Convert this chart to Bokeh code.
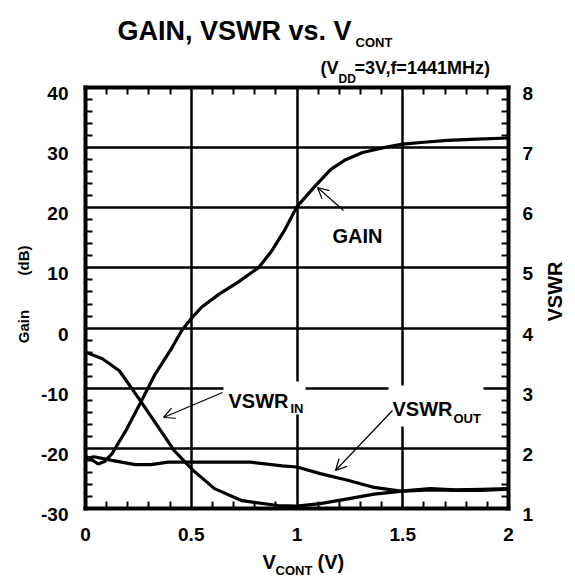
import math
from bokeh.plotting import figure
from bokeh.models import (Range1d, LinearAxis, Label, Arrow, OpenHead, FixedTicker,
                          BoxAnnotation)
from bokeh.embed import file_html
from bokeh.resources import INLINE

# ---------------- data ----------------
gain_v = [0, 0.03, 0.06, 0.09, 0.125, 0.19, 0.26, 0.33, 0.41, 0.455, 0.5, 0.55, 0.63,
          0.72, 0.82, 0.88, 0.94, 1.0, 1.08, 1.16, 1.23, 1.31, 1.41, 1.5, 1.6, 1.71,
          1.85, 2.0]
gain_db = [-21.3, -21.9, -22.6, -22.2, -20.9, -17.1, -12.4, -7.6, -3.2, -0.4, 1.6, 3.5,
           5.6, 7.6, 10.1, 12.8, 16.2, 20.2, 23.4, 26.4, 28.0, 29.2, 30.0, 30.6, 30.9,
           31.2, 31.4, 31.6]

vswr_in_v = [0, 0.08, 0.16, 0.26, 0.345, 0.42, 0.51, 0.61, 0.74, 0.91, 1.0, 1.11,
             1.24, 1.365, 1.5, 1.63, 1.75, 1.87, 2.0]
vswr_in = [3.60, 3.49, 3.29, 2.79, 2.35, 1.96, 1.63, 1.33, 1.13, 1.05, 1.04, 1.08,
           1.16, 1.24, 1.29, 1.31, 1.30, 1.30, 1.32]

vswr_out_v = [0, 0.04, 0.125, 0.235, 0.31, 0.39, 0.55, 0.78, 0.93, 1.0, 1.11, 1.24,
              1.365, 1.49, 1.63, 1.75, 1.87, 2.0]
vswr_out = [1.83, 1.86, 1.80, 1.73, 1.73, 1.77, 1.77, 1.77, 1.71, 1.69, 1.58, 1.47,
            1.35, 1.29, 1.33, 1.31, 1.32, 1.33]

x_ticks = [0, 0.5, 1, 1.5, 2]
x_tick_labels = ["0", "0.5", "1", "1.5", "2"]
gain_ticks = [-30, -20, -10, 0, 10, 20, 30, 40]
gain_tick_labels = ["-30", "-20", "-10", "0", "10", "20", "30", "40"]
vswr_ticks = [1, 2, 3, 4, 5, 6, 7, 8]

FONT = "Liberation Sans"

# ---------------- layout constants (canvas pixels) ----------------
W, H = 567, 577
FL, FR, FT, FB = 85, 508, 87, 508      # the plot box
XMIN, XMAX = 0.0, 2.0
GMIN, GMAX = -30.0, 40.0
VMIN, VMAX = 1.0, 8.0
xs = (FR - FL) / (XMAX - XMIN)
ys = (FB - FT) / (GMAX - GMIN)
x_start, x_end = XMIN - FL / xs, XMAX + (W - FR) / xs
g_start, g_end = GMIN - (H - FB) / ys, GMAX + FT / ys


def g2v(g):
    return VMIN + (g - GMIN) * (VMAX - VMIN) / (GMAX - GMIN)


def X(px):
    return XMIN + (px - FL) / xs


def Y(py):
    return GMAX - (py - FT) / ys


LAB_SHIFT = 1.0  # tick labels sit a little below their ticks in the reference

p = figure(width=W, height=H, output_backend="svg", toolbar_location=None,
           x_range=Range1d(x_start, x_end), y_range=Range1d(g_start, g_end),
           x_axis_type=None, y_axis_type=None, title=None,
           min_border_left=0, min_border_right=0, min_border_top=0,
           min_border_bottom=0, background_fill_color="white",
           border_fill_color="white")
p.outline_line_color = None
p.extra_y_ranges = {
    "vswr": Range1d(g2v(g_start), g2v(g_end)),
    "glab": Range1d(g_start + LAB_SHIFT, g_end + LAB_SHIFT),
    "vlab": Range1d(g2v(g_start) + LAB_SHIFT / 10, g2v(g_end) + LAB_SHIFT / 10),
}

x_minor = [round(0.1 * i, 1) for i in range(1, 20) if i % 5 != 0]
y_minor = [v for v in range(-28, 40, 2) if v % 10 != 0]
r_minor = [round(1 + 0.2 * i, 1) for i in range(1, 35) if i % 5 != 0]

ex, eg = 2 / xs, 2 / ys
TICK_FS = "19px"


def frame_axis(ax):
    ax.axis_line_color = "black"
    ax.axis_line_width = 4
    ax.major_tick_in = 0
    ax.major_tick_out = 0
    ax.major_tick_line_color = "black"
    ax.major_tick_line_width = 2.5
    ax.minor_tick_in = 7
    ax.minor_tick_out = 0
    ax.minor_tick_line_width = 2
    ax.minor_tick_line_color = "black"
    ax.major_label_text_alpha = 0
    return ax


def label_axis(ax, standoff):
    ax.axis_line_color = None
    ax.major_tick_in = 0
    ax.major_tick_out = 0
    ax.minor_tick_in = 0
    ax.minor_tick_out = 0
    ax.major_label_standoff = standoff
    ax.major_label_text_font = FONT
    ax.major_label_text_font_style = "bold"
    ax.major_label_text_font_size = TICK_FS
    ax.major_label_text_color = "black"
    return ax


# left edge (its long major ticks are the horizontal grid lines)
left = frame_axis(LinearAxis(fixed_location=XMIN, bounds=(GMIN - eg, GMAX + eg),
                             ticker=FixedTicker(ticks=gain_ticks, minor_ticks=y_minor)))
left.major_tick_in = int(FR - FL)
p.add_layout(left, "left")

# bottom edge with the x tick labels (long major ticks = vertical grid lines)
bottom = frame_axis(LinearAxis(fixed_location=GMIN, bounds=(XMIN - ex, XMAX + ex),
                               ticker=FixedTicker(ticks=x_ticks, minor_ticks=x_minor)))
bottom.major_tick_in = int(FB - FT)
bottom.major_label_overrides = {t: l for t, l in zip(x_ticks, x_tick_labels)}
bottom.major_label_text_alpha = 1
bottom.major_label_standoff = 19
bottom.major_label_text_font = FONT
bottom.major_label_text_font_style = "bold"
bottom.major_label_text_font_size = TICK_FS
bottom.major_label_text_color = "black"
p.add_layout(bottom, "below")

top = frame_axis(LinearAxis(fixed_location=GMAX, bounds=(XMIN - ex, XMAX + ex),
                            ticker=FixedTicker(ticks=x_ticks, minor_ticks=x_minor)))
p.add_layout(top, "above")

right = frame_axis(LinearAxis(y_range_name="vswr", fixed_location=XMAX,
                              bounds=(VMIN - eg / 10, VMAX + eg / 10),
                              ticker=FixedTicker(ticks=vswr_ticks, minor_ticks=r_minor)))
p.add_layout(right, "right")

# tick labels of the two vertical axes
gain_lab = label_axis(LinearAxis(y_range_name="glab", fixed_location=XMIN,
                                 ticker=FixedTicker(ticks=gain_ticks)), 17)
gain_lab.major_label_overrides = {t: l for t, l in zip(gain_ticks, gain_tick_labels)}
p.add_layout(gain_lab, "left")
p.add_layout(label_axis(LinearAxis(y_range_name="vlab", fixed_location=XMAX,
                                   ticker=FixedTicker(ticks=vswr_ticks)), 14), "right")

# ---------------- curves ----------------
p.line(gain_v, gain_db, line_color="black", line_width=3.2)
p.line(vswr_in_v, vswr_in, line_color="black", line_width=3.2, y_range_name="vswr")
p.line(vswr_out_v, vswr_out, line_color="black", line_width=3.2, y_range_name="vswr")

# white boxes behind the curve labels (they break the grid lines)
for (l, r, t, b) in [(223, 305, 381, 414), (388, 483, 385, 426)]:
    p.add_layout(BoxAnnotation(left=X(l), right=X(r), top=Y(t), bottom=Y(b),
                               fill_color="white", fill_alpha=1.0,
                               line_color=None))


# ---------------- texts ----------------
def lab(text, px, py, size, angle=0.0, align="left", baseline="alphabetic"):
    p.add_layout(Label(x=X(px), y=Y(py), text=text, text_font=FONT,
                       text_font_style="bold", text_font_size=f"{size}px",
                       text_color="black", text_align=align,
                       text_baseline=baseline, angle=angle))


# title
lab("GAIN, VSWR vs. V", 117, 30, 27)
lab("CONT", 355, 42, 13)
# subtitle
lab("(V", 320, 67, 18)
lab("DD", 338, 78, 12)
lab("=3V,f=1441MHz)", 354, 67, 18)

# axis titles (rotated, placed by their centres)
lab("Gain", 22.5, 326, 15, angle=math.pi / 2, align="center", baseline="middle")
lab("(dB)", 22.5, 260, 15, angle=math.pi / 2, align="center", baseline="middle")
lab("VSWR", 554, 291, 20, angle=math.pi / 2, align="center", baseline="middle")
lab("V", 262, 561, 20)
lab("CONT", 275, 570, 13)
lab("(V)", 317, 561, 20)

# curve labels
lab("GAIN", 332, 235, 20)
lab("VSWR", 228, 400, 20)
lab("IN", 290, 408, 13)
lab("VSWR", 392, 408, 20)
lab("OUT", 453, 418, 13)

# arrows
for (x0, y0, x1, y1) in [(343, 210, 317, 187), (222, 392, 163, 417),
                         (392, 410, 335, 470)]:
    p.add_layout(Arrow(x_start=X(x0), y_start=Y(y0), x_end=X(x1), y_end=Y(y1),
                       line_width=1.2, line_color="black",
                       end=OpenHead(size=11, line_width=1.2, line_color="black")))

open("out.html", "w").write(file_html(p, INLINE))
